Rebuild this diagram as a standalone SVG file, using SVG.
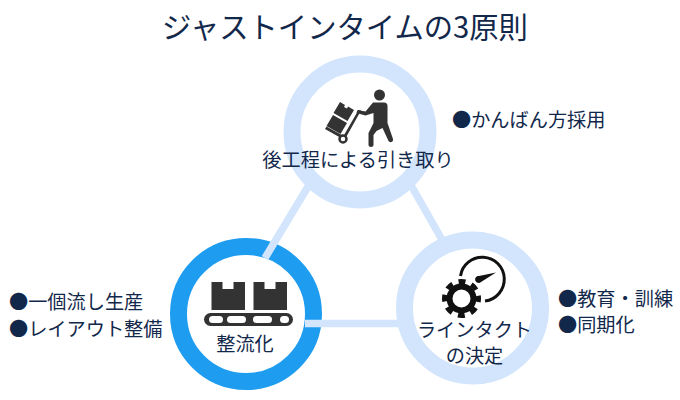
<svg xmlns="http://www.w3.org/2000/svg" width="680" height="400" viewBox="0 0 680 400">
<style>
text{font-family:"Noto Sans CJK JP","Noto Sans",sans-serif;fill:#12284b;text-anchor:middle;font-size:19.200px;font-weight:400}
.l{text-anchor:start}
.ring{fill:#fff;stroke:#d2e5fd;stroke-width:17}
.ic{fill:#333}
</style>
<rect width="680" height="400" fill="#fff"/>
<text x="345" y="38" style="font-size:29.300px">ジャストインタイムの3原則</text>
<g id="node-left">
<circle cx="246" cy="314" r="67.500" fill="#fff" stroke="#1e9cf0" stroke-width="17"/>
<g class="ic">
<path d="M211.500 282h11v7h11v-7h11.500v28h-33.500z"/>
<path d="M253.500 282h11v7h11v-7h11.500v28h-33.500z"/>
<rect x="204" y="313" width="89" height="13" rx="6.500"/>
</g>
<g fill="#fff"><rect x="209" y="316" width="14" height="7" rx="3.500"/><rect x="227" y="316" width="19" height="7" rx="3.500"/><rect x="253" y="316" width="19" height="7" rx="3.500"/><rect x="280" y="316" width="9" height="7" rx="3.500"/></g>
<text x="245" y="351">整流化</text>
</g>
<g id="connectors" stroke="#d2e5fd" stroke-width="7.500" fill="none">
<line x1="312" y1="180" x2="265" y2="258"/>
<line x1="408" y1="180" x2="445" y2="245"/>
<line x1="305" y1="323.500" x2="402" y2="323.500"/>
</g>
<g id="node-top">
<circle class="ring" cx="360" cy="132" r="68"/>
<g class="ic">
<circle cx="379.500" cy="95" r="5.500"/>
<path d="M373 102.500h11q3.500 0 3.500 3.500v17l5.500 16q.5 2.500-1.500 3t-3-1l-6-13-6 3-3 4v10q0 2-2.500 2t-2.500-2v-12l5-10v-10l-8 2.500-9-2.500 1-3 8 1.500z"/>
<path d="M361 110.500l-2.500-.5-15 26-17-9.500-1.500 2.500 19.500 11z"/>
<path d="M340 102l5 3-1 2 3 1.500 1-2 6 3.500-6.500 11-14-8z"/>
<path d="M333 115l14 8-6.500 11-14-8z"/>
<circle cx="343" cy="139" r="3.500" fill="#fff" stroke="#333" stroke-width="2.500"/>
</g>
<text x="358" y="167">後工程による引き取り</text>
</g>
<g id="node-right">
<circle class="ring" cx="472.500" cy="308" r="68"/>
<g>
<path d="M460.500 276A22 22 0 1 1 485 301" fill="none" stroke="#111" stroke-width="3"/>
<path d="M479 276l17-3.500-15 9.500a3.500 3.500 0 1 1-2-6z" fill="#111"/>
<circle cx="461.500" cy="298.500" r="12" fill="none" stroke="#111" stroke-width="6"/>
<circle cx="461.500" cy="298.500" r="17" fill="none" stroke="#111" stroke-width="5" stroke-dasharray="7 6.350" stroke-dashoffset="3.500"/>
</g>
<text x="474.500" y="337">ラインタクト</text>
<text x="474.500" y="363">の決定</text>
</g>
<g id="note-top"><text class="l" x="452" y="127">●かんばん方採用</text></g>
<g id="note-right"><text class="l" x="558" y="306">●教育・訓練</text><text class="l" x="558" y="332">●同期化</text></g>
<g id="note-left"><text class="l" x="9" y="309">●一個流し生産</text><text class="l" x="9" y="336">●レイアウト整備</text></g>
</svg>
